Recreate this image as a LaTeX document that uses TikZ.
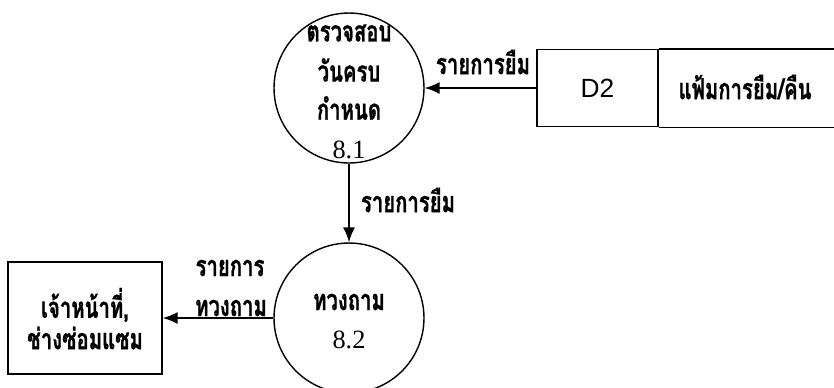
\documentclass[tikz,border=0pt]{standalone}
\usepackage{fontspec}
\newfontfamily\thaifont[Script=Thai,FakeStretch=0.7,BoldFeatures={FakeBold=0.8}]{Loma}
\newfontfamily\numfont{Liberation Serif}
\newfontfamily\idfont{Liberation Sans}
\usetikzlibrary{positioning,arrows.meta}

\begin{document}
\begin{tikzpicture}[
  x=0.02cm, y=-0.02cm,
  font=\thaifont\bfseries\fontsize{16.5}{22}\selectfont,
  proc/.style={circle, draw, line width=0.8pt, minimum size=3cm, inner sep=0pt},
  extent/.style={draw, line width=0.8pt, minimum width=3.08cm, minimum height=2.24cm, inner sep=0pt},
  dstore/.style={draw, line width=0.8pt, minimum width=2.42cm, minimum height=1.54cm, inner sep=0pt, font=\idfont\fontsize{15}{17}\selectfont},
  txt/.style={inner sep=0pt, align=center},
  num/.style={txt, font=\numfont\fontsize{15}{18}\selectfont},
  flow/.style={-{Latex[length=3mm,width=2.4mm]}, line width=0.9pt},
]
\useasboundingbox (0,0) rectangle (834,387);

% ---- processes ----
\node[proc] (p81) at (349,88)  {};
\node[proc] (p82) at (349,318) {};
\node[txt] (p81a) at (349,33)  {ตรวจสอบ};
\node[txt] (p81b) at (349,70)  {วันครบ};
\node[txt] (p81c) at (349,108) {กำหนด};
\node[num] (p81n) at (349,150) {8.1};
\node[txt] (p82a) at (349,302) {ทวงถาม};
\node[num] (p82n) at (349,340) {8.2};

% ---- data store D2 (open on the right) ----
\node[dstore] (d2) at (597.5,88) {D2};
\node[txt] (d2name) at (745,87) {แฟ้มการยืม/คืน};
\draw[line width=0.8pt] (d2.north east) -- ++(176,0);
\draw[line width=0.8pt] (d2.south east) -- ++(176,0);

% ---- external entity ----
\node[extent] (staff) at (85,318) {};
\node[txt] (staffa) at (85,305) {เจ้าหน้าที่,};
\node[txt] (staffb) at (85,338) {ช่างซ่อมแซม};

% ---- flows ----
\draw[flow] (d2.west) -- (p81.east);
\node[txt] (f1) at (483,62) {รายการยืม};
\draw[flow] (p81.south) -- (p82.north);
\node[txt] (f2) at (408,200) {รายการยืม};
\draw[flow] (p82.west) -- (staff.east);
\node[txt] (f3a) at (230,268) {รายการ};
\node[txt] (f3b) at (231,308) {ทวงถาม};

\end{tikzpicture}
\end{document}
